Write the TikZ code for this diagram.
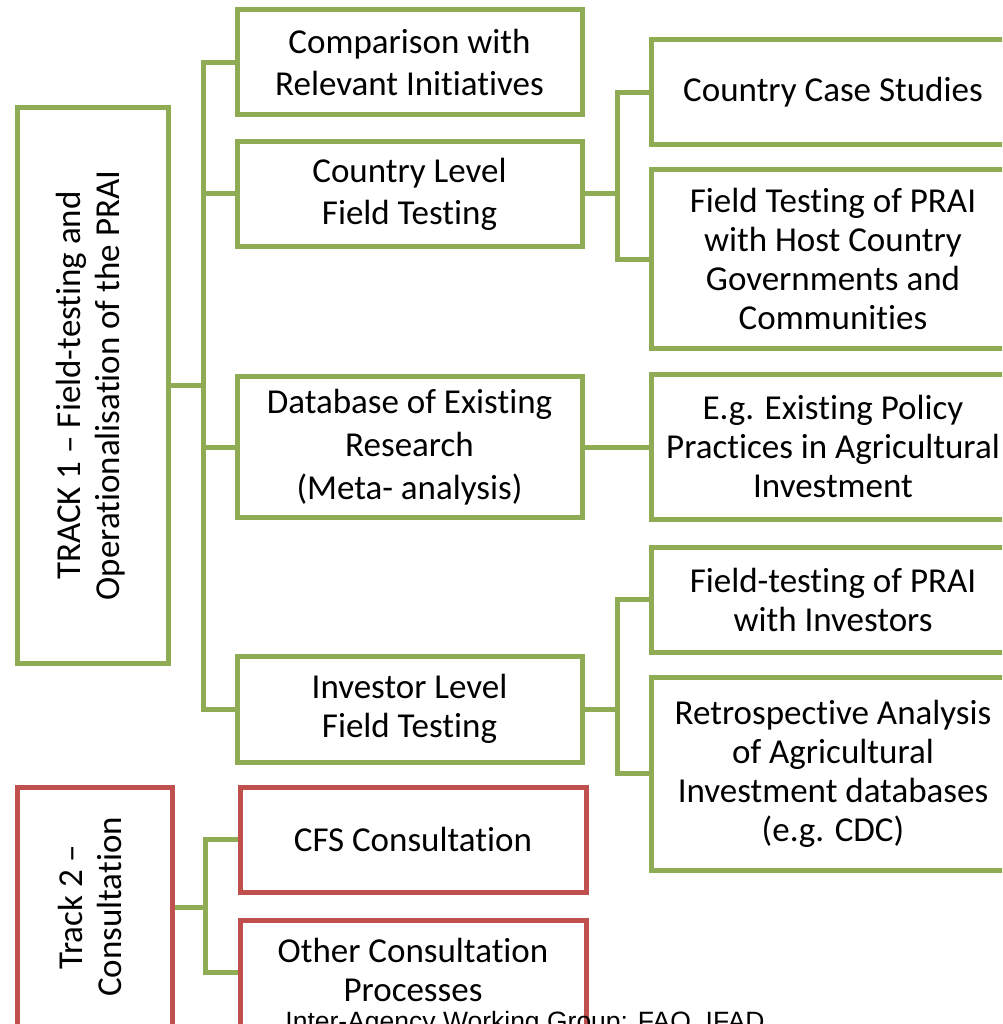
\documentclass[tikz,border=0pt]{standalone}
\usepackage{fontspec}
\usepackage{graphicx}
\setmainfont{Carlito}[Ligatures=NoCommon]
\newfontfamily\arialf{Liberation Sans}
\definecolor{gr}{HTML}{8FAC55}
\definecolor{rd}{HTML}{C0504D}
\begin{document}
\begin{tikzpicture}[x=1pt,y=-1pt,
  gbox/.style={draw=gr, line width=5pt, inner sep=0pt, align=center,
    font=\fontsize{35}{42}\selectfont},
  rbox/.style={gbox, draw=rd},
  conn/.style={draw=gr, line width=5pt, line join=miter}]
\useasboundingbox (0,0) rectangle (1002,1024);
\clip (0,0) rectangle (1002,1024);

% Track 1
\node[gbox, minimum width=151pt, minimum height=555pt] (t1) at (92.5,385.5)
  {\rotatebox{90}{\fontsize{35}{39}\selectfont\begin{tabular}{@{}c@{}}TRACK 1 – Field-testing and\\Operationalisation of the PRAI\end{tabular}}};

\node[gbox, minimum width=345pt, minimum height=105pt] (cmp) at (409.5,62.5)
  {Comparison with\\Relevant Initiatives};
\node[gbox, minimum width=345pt, minimum height=104pt] (cty) at (409.5,194)
  {Country Level\\Field Testing};
\node[gbox, minimum width=345pt, minimum height=141pt, font=\fontsize{35}{43}\selectfont] (db) at (409.5,447)
  {Database of Existing\\Research\\(Meta- analysis)};
\node[gbox, minimum width=345pt, minimum height=106pt, font=\fontsize{35}{39}\selectfont] (inv) at (409.5,709)
  {Investor Level\\Field Testing};

\node[gbox, minimum width=364pt, minimum height=105pt] (ccs) at (833,92.5)
  {Country Case Studies};
\node[gbox, minimum width=364pt, minimum height=178pt, font=\fontsize{35}{39}\selectfont] (ftp) at (833,259)
  {Field Testing of PRAI\\with Host Country\\Governments and\\Communities};
\node[gbox, minimum width=364pt, minimum height=145pt, font=\fontsize{35}{39}\selectfont] (eg) at (833,446.5)
  {E.g. Existing Policy\\Practices in Agricultural\\Investment};
\node[gbox, minimum width=364pt, minimum height=105pt, font=\fontsize{35}{39}\selectfont] (fti) at (833,599.5)
  {Field-testing of PRAI\\with Investors};
\node[gbox, minimum width=364pt, minimum height=193pt, font=\fontsize{35}{39}\selectfont] (ret) at (833,773.5)
  {Retrospective Analysis\\of Agricultural\\Investment databases\\(e.g. CDC)};

% Track 2
\node[rbox, minimum width=155pt, minimum height=240pt] (t2) at (94.5,907)
  {\rotatebox{90}{\fontsize{35}{39}\selectfont\begin{tabular}{@{}c@{}}Track 2 –\\Consultation\end{tabular}}};
\node[rbox, minimum width=346pt, minimum height=105pt] (cfs) at (413,839.5)
  {CFS Consultation};
\node[rbox, minimum width=346pt, minimum height=114pt, font=\fontsize{35}{39}\selectfont] (oth) at (413,977)
  {Other Consultation\\Processes\rule[-14pt]{0pt}{0pt}};

% connectors
\coordinate (j1) at (203,385.5);
\draw[conn] (t1.east) -- (j1);
\draw[conn] (cmp.west) -- (cmp.west -| j1) -- (inv.west -| j1) -- (inv.west);
\draw[conn] (cty.west) -- (cty.west -| j1);
\draw[conn] (db.west) -- (db.west -| j1);

\coordinate (j2) at (617,194);
\draw[conn] (cty.east) -- (j2);
\draw[conn] (ccs.west) -- (ccs.west -| j2) -- (ftp.west -| j2) -- (ftp.west);

\draw[conn] (db.east) -- (db.east -| eg.west);

\coordinate (j3) at (617,709);
\draw[conn] (inv.east) -- (j3);
\draw[conn] (fti.west) -- (fti.west -| j3) -- (ret.west -| j3) -- (ret.west);

\coordinate (j4) at (205,907);
\coordinate (j5) at (205,972);
\draw[conn] (t2.east) -- (j4);
\draw[conn] (cfs.west) -- (cfs.west -| j4) -- (j5) -- (j5 -| oth.west);

% source line
\node[font=\arialf\fontsize{26.5}{30}\selectfont, anchor=base, inner sep=0pt] (src) at (525,1030)
  {Inter-Agency Working Group: FAO, IFAD};
\end{tikzpicture}
\end{document}
